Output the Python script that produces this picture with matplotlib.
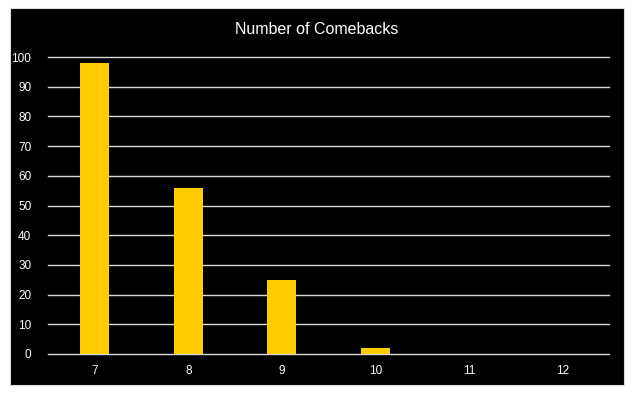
import matplotlib.pyplot as plt
from matplotlib.patches import Rectangle

# data
categories = ['7', '8', '9', '10', '11', '12']
comebacks = [98, 56, 25, 2, 0, 0]
y_ticks = [0, 10, 20, 30, 40, 50, 60, 70, 80, 90, 100]

plt.rcParams['font.family'] = ['Liberation Sans', 'DejaVu Sans']

W, H = 636, 398
fig = plt.figure(figsize=(W / 100, H / 100), dpi=100)
fig.patch.set_facecolor('white')

# black chart area
fig.patches.append(Rectangle((10 / W, 1 - 385 / H), 614 / W, 377 / H,
                             transform=fig.transFigure, facecolor='black',
                             edgecolor='#d9d9d9', linewidth=0.8, zorder=0))

ax = fig.add_axes([48 / W, 1 - 354 / H, 561 / W, 297 / H])
ax.set_zorder(2)
ax.patch.set_alpha(0)

x = range(len(categories))
ax.bar(x, comebacks, width=0.31, color='#FFCC00', zorder=3)

ax.set_xlim(-0.5, len(categories) - 0.5)
ax.set_ylim(0, 100)
ax.set_yticks(y_ticks)
ax.set_xticks(list(x))
ax.set_xticklabels(categories)
# horizontal gridlines, incl. the one at 0
for t in y_ticks:
    ax.axhline(t, color='#d9d9d9', linewidth=1, zorder=1, clip_on=False)
for s in ax.spines.values():
    s.set_visible(False)
ax.tick_params(colors='white', labelsize=8.5, length=0)
ax.tick_params(axis='y', pad=12)
ax.tick_params(axis='x', pad=8)

fig.text(317 / W, 1 - 30 / H, 'Number of Comebacks', color='white',
         fontsize=11.5, ha='center', va='center', zorder=3)

fig.savefig('out.png', dpi=100, facecolor='white')
